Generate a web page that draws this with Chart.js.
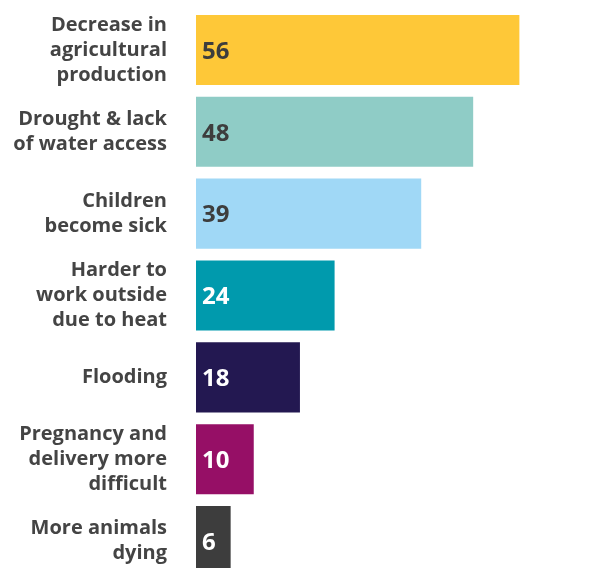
<!DOCTYPE html>
<html>
<head>
<meta charset="utf-8">
<script src="https://cdn.jsdelivr.net/npm/chart.js@4"></script>
<style>
  html, body { margin: 0; padding: 0; overflow: hidden; background: #fff; }
  #wrap { position: relative; width: 606px; height: 582px; }
</style>
</head>
<body>
<div id="wrap"><canvas id="myChart"></canvas></div>
<script>
// categories (multi-line labels)
const categories = [
  ["Decrease in", "agricultural", "production"],
  ["Drought & lack", "of water access"],
  ["Children", "become sick"],
  ["Harder to", "work outside", "due to heat"],
  ["Flooding"],
  ["Pregnancy and", "delivery more", "difficult"],
  ["More animals", "dying"]
];
const values = [56, 48, 39, 24, 18, 10, 6];
const barColors = ["#FEC838", "#8FCCC6", "#A0D8F6", "#009AAD", "#231851", "#960F66", "#3D3D3D"];
const valueColors = ["#3D3D3D", "#3D3D3D", "#3D3D3D", "#FFFFFF", "#FFFFFF", "#FFFFFF", "#FFFFFF"];

const fontFamily = "'Open Sans', Lato, sans-serif";

// numbers inside the bars
const valueLabels = {
  id: "valueLabels",
  afterDatasetsDraw(chart) {
    const ctx = chart.ctx;
    const meta = chart.getDatasetMeta(0);
    ctx.save();
    ctx.font = "bold 24px " + fontFamily;
    ctx.textAlign = "left";
    ctx.textBaseline = "middle";
    meta.data.forEach((bar, i) => {
      ctx.fillStyle = valueColors[i];
      ctx.fillText(values[i], bar.base + 6, bar.y + 2);
    });
    ctx.restore();
  }
};

const ctx = document.getElementById("myChart").getContext("2d");
const chart = new Chart(ctx, {
  type: "bar",
  data: {
    labels: categories,
    datasets: [{
      data: values,
      backgroundColor: barColors,
      borderWidth: 0,
      categoryPercentage: 1,
      barPercentage: 0.856
    }]
  },
  options: {
    indexAxis: "y",
    responsive: true,
    maintainAspectRatio: false,
    animation: false,
    layout: { padding: { top: 9, bottom: 0, left: 0, right: 0 } },
    plugins: {
      legend: { display: false },
      tooltip: { enabled: false }
    },
    scales: {
      x: {
        min: 0,
        max: 71,
        display: false
      },
      y: {
        grid: { display: false, drawTicks: false },
        border: { display: false },
        afterFit(scale) {
          scale.width = 196;
          scale.paddingTop = 0;
          scale.paddingBottom = 0;
        },
        ticks: {
          padding: 29,
          color: "#444444",
          font: { family: fontFamily, size: 20, weight: "bold", lineHeight: 1.25 }
        }
      }
    }
  },
  plugins: [valueLabels]
});
</script>
</body>
</html>
